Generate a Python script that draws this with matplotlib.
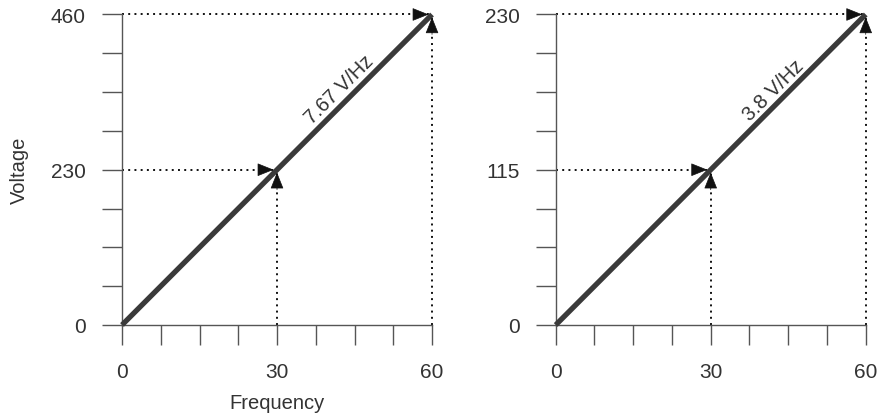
import matplotlib.pyplot as plt
import numpy as np

# data
freq = [0, 30, 60]
volt_left = [0, 230, 460]
volt_right = [0, 115, 230]
ratio_labels = ['7.67 V/Hz', '3.8 V/Hz']

plt.rcParams['font.family'] = ['Liberation Sans', 'DejaVu Sans']
txt_col = '#333333'
ax_col = '#555555'

fig = plt.figure(figsize=(8.79, 4.14), dpi=100)
ax1 = fig.add_axes([0.1388, 0.2126, 0.3527, 0.7500])
ax2 = fig.add_axes([0.6322, 0.2126, 0.3527, 0.7500])


def vf_panel(ax, f, v, label):
    fmax, vmax = f[-1], v[-1]
    ax.set_xlim(0, fmax)
    ax.set_ylim(0, vmax)
    for s in ['top', 'right']:
        ax.spines[s].set_visible(False)
    for s in ['left', 'bottom']:
        ax.spines[s].set_color(ax_col)
        ax.spines[s].set_linewidth(1.0)

    xt = np.linspace(0, fmax, 9)
    yt = np.linspace(0, vmax, 9)
    ax.set_xticks(xt)
    ax.set_yticks(yt)
    ax.set_xticklabels([str(int(t)) if t in f else '' for t in xt])
    ax.set_yticklabels([str(int(t)) if t in v else '' for t in yt])
    ax.tick_params(direction='out', length=14.5, width=1.0, color=ax_col,
                   labelsize=15, labelcolor=txt_col, pad=11.5)
    ax.tick_params(axis='x', pad=12)

    # V/f line
    ax.plot(f, v, color='#3a3a3a', lw=3.8, solid_capstyle='butt', clip_on=False, zorder=3)

    # dotted guides with arrow heads at the mid and end points
    for fi, vi in zip(f[1:], v[1:]):
        ax.plot([0, fi], [vi, vi], color='#111111', lw=1.4, ls=(0, (1, 2.2)), clip_on=False, zorder=2)
        ax.plot([fi, fi], [0, vi], color='#111111', lw=1.4, ls=(0, (1, 2.2)), clip_on=False, zorder=2)
        head = dict(arrowstyle='-|>,head_length=1.05,head_width=0.42', color='#111111',
                    lw=0.5, shrinkA=0, shrinkB=0, mutation_scale=10)
        ax.annotate('', xy=(fi, vi), xytext=(-16, 0), textcoords='offset pixels',
                    arrowprops=dict(head, shrinkB=2.5), annotation_clip=False, zorder=4)
        ax.annotate('', xy=(fi, vi), xytext=(0, -20), textcoords='offset pixels',
                    arrowprops=dict(head, shrinkB=2), annotation_clip=False, zorder=4)

    xm = fmax * 0.73
    ax.annotate(label, xy=(xm, vmax * xm / fmax), xytext=(-9, 9), textcoords='offset pixels',
                rotation=45, ha='center', va='center', fontsize=14.5, color=txt_col)


vf_panel(ax1, freq, volt_left, ratio_labels[0])
vf_panel(ax2, freq, volt_right, ratio_labels[1])

ax1.set_ylabel('Voltage', fontsize=14.5, color=txt_col, labelpad=16)
ax1.set_xlabel('Frequency', fontsize=14.5, color=txt_col, labelpad=9)

fig.savefig('out.png', dpi=100)
